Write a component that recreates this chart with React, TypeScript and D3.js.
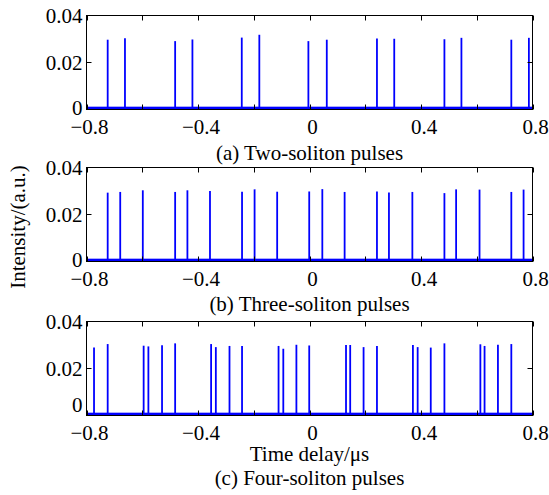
import React from 'react';
import * as d3 from 'd3';

// axis ticks
const xTicks = [-0.8, -0.6, -0.4, -0.2, 0, 0.2, 0.4, 0.6, 0.8];
const xTickLabels = ['\u22120.8', '', '\u22120.4', '', '0', '', '0.4', '', '0.8'];
const yTicks = [0, 0.02, 0.04];
const yTickLabels = ['0', '0.02', '0.04'];

// panel captions
const captions = ['(a) Two-soliton pulses', '(b) Three-soliton pulses', '(c) Four-soliton pulses'];

// pulse times (us) and peak intensities (a.u.)
const twoTimes = [-0.724, -0.662, -0.482, -0.42, -0.243, -0.18, -0.004, 0.062, 0.242, 0.304, 0.484, 0.545, 0.724, 0.787];
const twoPeaks = [0.0297, 0.0303, 0.0291, 0.0298, 0.0306, 0.0318, 0.0291, 0.0297, 0.0302, 0.0301, 0.0299, 0.0305, 0.0297, 0.0305];

const threeTimes = [-0.724, -0.679, -0.598, -0.482, -0.438, -0.357, -0.242, -0.197, -0.116, -0.001, 0.046, 0.126, 0.242, 0.285, 0.369, 0.484, 0.526, 0.61, 0.724, 0.768];
const threePeaks = [0.0293, 0.0296, 0.0303, 0.0296, 0.0303, 0.03, 0.0297, 0.0307, 0.0297, 0.0298, 0.0308, 0.0296, 0.0298, 0.0294, 0.0296, 0.0291, 0.0307, 0.0306, 0.0296, 0.0306];

const fourTimes = [-0.773, -0.724, -0.595, -0.578, -0.529, -0.482, -0.353, -0.336, -0.287, -0.242, -0.111, -0.094, -0.047, -0.001, 0.131, 0.146, 0.194, 0.242, 0.371, 0.388, 0.435, 0.484, 0.613, 0.628, 0.676, 0.724];
const fourPeaks = [0.0289, 0.0304, 0.0297, 0.0294, 0.0299, 0.0307, 0.0304, 0.0291, 0.0296, 0.0296, 0.0296, 0.0284, 0.0301, 0.0298, 0.03, 0.03, 0.0291, 0.0296, 0.03, 0.0291, 0.0289, 0.0307, 0.0303, 0.0296, 0.0301, 0.0304];

// background noise floor level
const noiseFloor = 0.0012;

const series = [
  { times: twoTimes, peaks: twoPeaks },
  { times: threeTimes, peaks: threePeaks },
  { times: fourTimes, peaks: fourPeaks },
];

const width = 549;
const height = 495;
const left = 86.5;
const right = 532.5;
const panelTops = [15.5, 167.5, 321.5];
const zeroShift = [-2, -2, -11]; // "0" label nudged up as in the original
const panelH = 94;
const font = '"Liberation Serif", "Times New Roman", serif';
const fs = 21;
const tickLen = 5;

const xScale = d3.scaleLinear().domain([-0.8, 0.8]).range([left, right]);

const Panel = ({ idx }: { idx: number }) => {
  const top = panelTops[idx];
  const bottom = top + panelH;
  const yScale = d3.scaleLinear().domain([0, 0.04]).range([bottom, top]);
  const s = series[idx];
  return (
    <g>
      {/* noise floor */}
      <rect x={left} y={yScale(noiseFloor)} width={right - left} height={yScale(0) - yScale(noiseFloor)} fill="#0000ff" />
      {s.times.map((t, i) => (
        <line key={i} x1={xScale(t)} x2={xScale(t)} y1={yScale(0)} y2={yScale(s.peaks[i])} stroke="#0000ff" strokeWidth={1.8} />
      ))}
      {/* box */}
      <rect x={left} y={top} width={right - left} height={panelH} fill="none" stroke="#000" strokeWidth={1} />
      {xTicks.map((t, i) => (
        <g key={'x' + i}>
          <line x1={Math.round(xScale(t)) + 0.5} x2={Math.round(xScale(t)) + 0.5} y1={bottom} y2={bottom - tickLen} stroke="#000" />
          <line x1={Math.round(xScale(t)) + 0.5} x2={Math.round(xScale(t)) + 0.5} y1={top} y2={top + tickLen} stroke="#000" />
          {xTickLabels[i] && (
            <text x={xScale(t) + 3} y={bottom + 24.5} textAnchor="middle" fontFamily={font} fontSize={fs}>
              {xTickLabels[i]}
            </text>
          )}
        </g>
      ))}
      {yTicks.map((v, i) => (
        <g key={'y' + i}>
          <line x1={left} x2={left + tickLen} y1={yScale(v)} y2={yScale(v)} stroke="#000" />
          <line x1={right} x2={right - tickLen} y1={yScale(v)} y2={yScale(v)} stroke="#000" />
          <text x={left - 4} y={yScale(v) + (v === 0 ? zeroShift[idx] : 0)} dy="0.35em" textAnchor="end" fontFamily={font} fontSize={fs}>
            {yTickLabels[i]}
          </text>
        </g>
      ))}
    </g>
  );
};

export default function App() {
  const cx = (left + right) / 2;
  return (
    <svg width={width} height={height} style={{ position: 'absolute', left: 0, top: 0, background: '#fff' }}>
      {series.map((_, i) => (
        <Panel key={i} idx={i} />
      ))}
      <text x={cx} y={159.5} textAnchor="middle" fontFamily={font} fontSize={fs}>{captions[0]}</text>
      <text x={cx} y={310.5} textAnchor="middle" fontFamily={font} fontSize={fs}>{captions[1]}</text>
      <text x={cx} y={460.5} textAnchor="middle" fontFamily={font} fontSize={fs}>Time delay/&#956;s</text>
      <text x={cx} y={485} textAnchor="middle" fontFamily={font} fontSize={fs}>{captions[2]}</text>
      <text transform="translate(18,227) rotate(-90)" textAnchor="middle" dy="0.35em" fontFamily={font} fontSize={fs}>
        Intensity/(a.u.)
      </text>
    </svg>
  );
}
